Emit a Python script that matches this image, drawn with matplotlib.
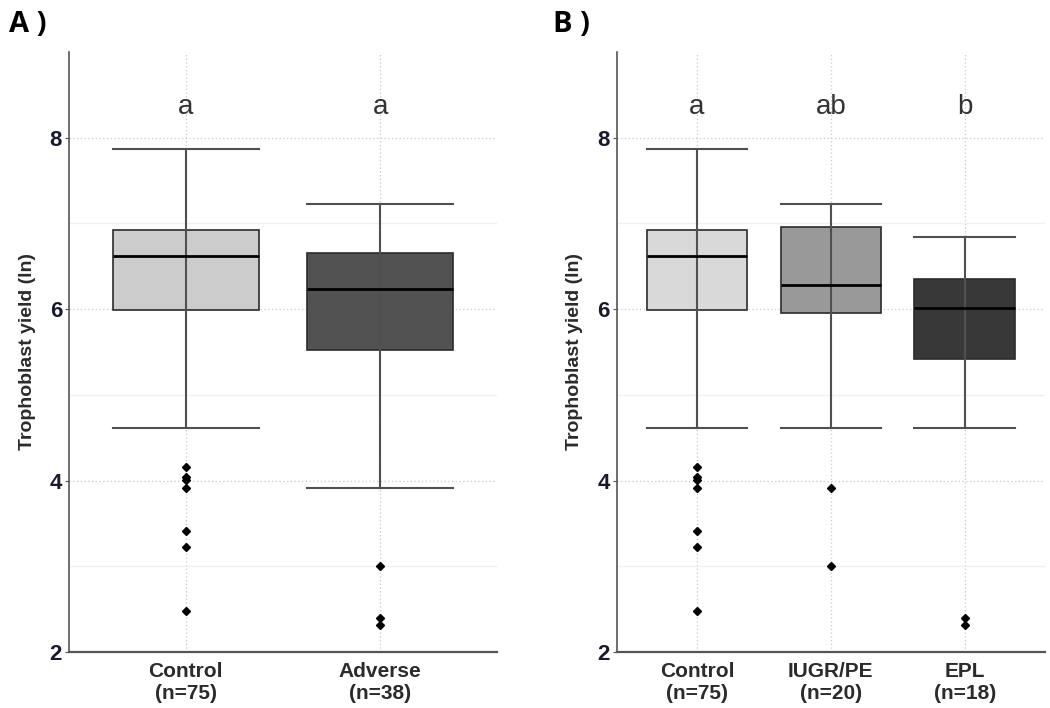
import matplotlib
matplotlib.use("Agg")
import matplotlib.pyplot as plt

plt.rcParams["font.family"] = ["Liberation Sans", "DejaVu Sans"]

# ── Data ────────────────────────────────────────────────────────────────────
groups_a = ["Control", "Adverse"]
n_a = [75, 38]
letters_a = ["a", "a"]
low_a = [4.61, 3.91]
q1_a = [5.99, 5.52]
med_a = [6.62, 6.24]
q3_a = [6.92, 6.66]
high_a = [7.87, 7.23]
out_a = [[4.16, 4.04, 4.01, 3.91, 3.41, 3.22, 2.48], [3.00, 2.40, 2.31]]
colors_a = ["#cccccc", "#525252"]

groups_b = ["Control", "IUGR/PE", "EPL"]
n_b = [75, 20, 18]
letters_b = ["a", "ab", "b"]
low_b = [4.61, 4.61, 4.61]
q1_b = [5.99, 5.95, 5.42]
med_b = [6.62, 6.28, 6.01]
q3_b = [6.92, 6.96, 6.35]
high_b = [7.87, 7.23, 6.84]
out_b = [[4.16, 4.04, 4.01, 3.91, 3.41, 3.22, 2.48], [3.91, 3.00], [2.40, 2.31]]
colors_b = ["#d9d9d9", "#999999", "#383838"]

LETTER_Y = 8.36
BOX_W = 0.75

fig = plt.figure(figsize=(10.5, 7.08), dpi=100)
ax_a = fig.add_axes([0.0657, 0.0791, 0.4076, 0.8475])
ax_b = fig.add_axes([0.5873, 0.0791, 0.4079, 0.8475])


def draw_panel(ax, groups, n, letters, low, q1, med, q3, high, outl, colors):
    pos = list(range(1, len(groups) + 1))
    stats = []
    for i, g in enumerate(groups):
        stats.append(dict(label=g, whislo=low[i], q1=q1[i], med=med[i],
                          q3=q3[i], whishi=high[i], fliers=outl[i]))
    bp = ax.bxp(stats, positions=pos, widths=BOX_W, capwidths=BOX_W,
                patch_artist=True, showfliers=True,
                boxprops=dict(edgecolor="#2b2b2b", linewidth=1.2),
                medianprops=dict(color="black", linewidth=2.0),
                whiskerprops=dict(color="#505050", linewidth=1.5),
                capprops=dict(color="#505050", linewidth=1.5),
                flierprops=dict(marker="D", markersize=4,
                                markerfacecolor="black",
                                markeredgecolor="black", linestyle="none"))
    for patch, c in zip(bp["boxes"], colors):
        patch.set_facecolor(c)
        patch.set_zorder(2)
    # whisker line runs through the box as in the original
    ax.vlines(pos, q1, q3, color="#505050", linewidth=1.5, zorder=2.5)
    for m in bp["medians"]:
        m.set_zorder(3)

    for p, lt in zip(pos, letters):
        ax.text(p, LETTER_Y, lt, ha="center", va="center",
                fontsize=20, color="#333333")

    ax.set_xlim(0.4, len(groups) + 0.6)
    ax.set_ylim(2, 9)
    ax.set_xticks(pos)
    ax.set_xticklabels([f"{g}\n(n={k})" for g, k in zip(groups, n)],
                       fontsize=15, fontweight="bold", color="#2b2b2b",
                       linespacing=1.25)
    ax.set_yticks([2, 4, 6, 8])
    ax.set_yticks([3, 5, 7], minor=True)
    ax.set_yticklabels(["2", "4", "6", "8"], fontsize=16,
                       fontweight="bold", color="#1a1a2e")
    ax.tick_params(axis="y", which="major", length=3, color="#555555", pad=2)
    ax.tick_params(axis="y", which="minor", length=0)
    ax.tick_params(axis="x", length=0, pad=7)
    ax.set_ylabel("Trophoblast yield (ln)", fontsize=14, fontweight="bold",
                  color="#2b2b2b", labelpad=10)

    ax.grid(True, axis="both", which="major", color="#c8c8c8",
            linestyle=(0, (1, 2)), linewidth=0.9, zorder=0)
    ax.grid(True, axis="y", which="minor", color="#f0f0f0",
            linestyle="-", linewidth=1.0, zorder=0)
    ax.set_axisbelow(True)

    for s in ["top", "right"]:
        ax.spines[s].set_visible(False)
    ax.spines["left"].set_color("#555555")
    ax.spines["bottom"].set_color("#555555")
    ax.spines["left"].set_linewidth(1.2)
    ax.spines["bottom"].set_linewidth(1.6)


draw_panel(ax_a, groups_a, n_a, letters_a, low_a, q1_a, med_a, q3_a,
           high_a, out_a, colors_a)
draw_panel(ax_b, groups_b, n_b, letters_b, low_b, q1_b, med_b, q3_b,
           high_b, out_b, colors_b)

fig.text(0.009, 0.966, "A )", fontsize=21, fontweight="bold",
         family=["Open Sans", "DejaVu Sans"], ha="left", va="center")
fig.text(0.527, 0.966, "B )", fontsize=21, fontweight="bold",
         family=["Open Sans", "DejaVu Sans"], ha="left", va="center")

fig.savefig("out.png", dpi=100)
